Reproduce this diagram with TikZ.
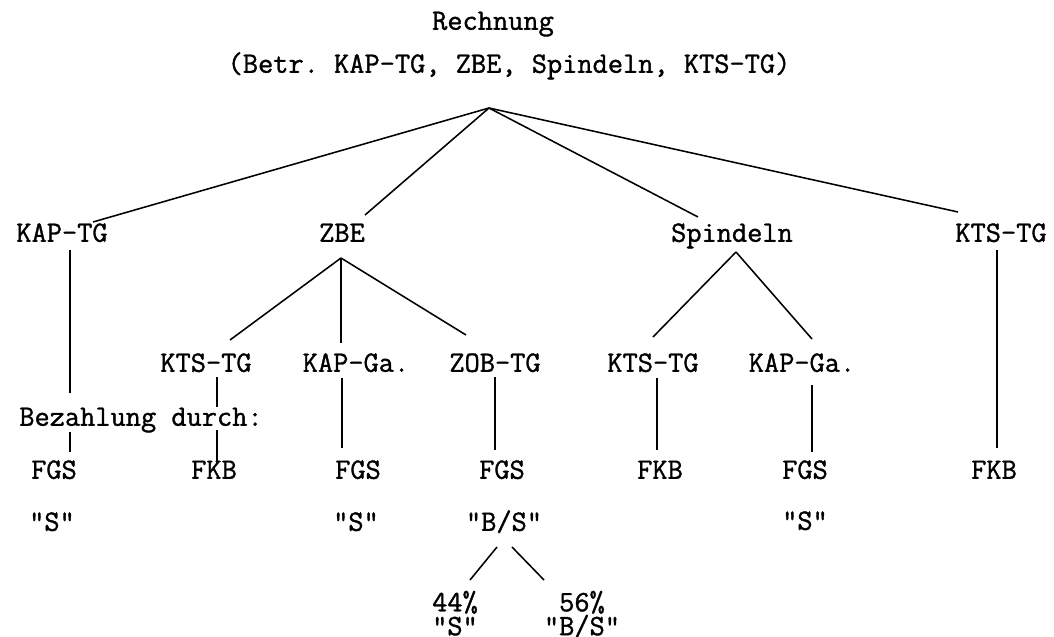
\documentclass[tikz,border=0pt]{standalone}
\usepackage{fontspec}
\setmonofont{Latin Modern Mono}[FakeBold=1.2]
\usepackage{tikz}
\usetikzlibrary{calc}

\begin{document}
\begin{tikzpicture}[x=0.025cm, y=-0.025cm, line width=1.1pt,
		every node/.style={font=\ttfamily\fontsize{21pt}{17pt}\selectfont,
			inner sep=0pt, text height=12.5pt, text depth=0pt},
		share/.style={align=center, text height=, text depth=, anchor=north}]

			\useasboundingbox (0,0) rectangle (1054,637);

			% Heading
			\node (rechnung) at (493,21) {Rechnung};
			\node (betr) at (509,64) {(Betr. KAP-TG, ZBE, Spindeln, KTS-TG)};
			\coordinate (root) at (489,108);

			% First level
			\node (kaptg) at (62,233) {KAP-TG};
			\node (zbe) at (342,233) {ZBE};
			\node (spindeln) at (732,233) {Spindeln};
			\node (ktstg) at (1001,233) {KTS-TG};

			% Second level
			\node (zkts) at (206,363) {KTS-TG};
			\node (zkap) at (356,363) {KAP-Ga.};
			\node (zzob) at (495,363) {ZOB-TG};
			\node (skts) at (653,363) {KTS-TG};
			\node (skap) at (802,363) {KAP-Ga.};

			% Payment
			\node (bez) at (141,417) {Bezahlung durch:};
			\node (fgs1) at (54,470) {FGS};
			\node (fkb1) at (214,470) {FKB};
			\node (fgs2) at (358,470) {FGS};
			\node (fgs3) at (502,470) {FGS};
			\node (fkb2) at (660,470) {FKB};
			\node (fgs4) at (805,470) {FGS};
			\node (fkb3) at (994,470) {FKB};

			\node (s1) at (52,522) {"S"};
			\node (s2) at (356,522) {"S"};
			\node (bs) at (504,522) {"B/S"};
			\node (s4) at (805,521) {"S"};

			\node (p44) [share] at (455,590) {44\%\\"S"};
			\node (p56) [share] at (582,590) {56\%\\"B/S"};

			% Lines from the top
			\draw (root) -- ($(kaptg)+(31,-11)$);
			\draw (root) -- ($(zbe)+(23,-18)$);
			\draw (root) -- ($(spindeln)+(-34,-16)$);
			\draw (root) -- ($(ktstg)+(-43,-21)$);

			% Forks
			\coordinate (zbefork) at ($(zbe)+(-1,25)$);
			\draw (zbefork) -- ($(zkts)+(24,-23)$);
			\draw (zbefork) -- ($(zkap)+(-15,-20)$);
			\draw (zbefork) -- ($(zzob)+(-29,-28)$);

			\coordinate (spfork) at ($(spindeln)+(4,19)$);
			\draw (spfork) -- ($(skts)+(0,-26)$);
			\draw (spfork) -- ($(skap)+(10,-24)$);

			% Down to the payers
			\draw ($(kaptg)+(8,17)$) -- ($(bez)+(-71,-24)$);
			\draw ($(bez)+(-71,15)$) -- ($(fgs1)+(16,-18)$);
			\draw ($(zkts)+(11,14)$) -- ($(bez)+(76,-10)$);
			\draw ($(bez)+(76,13)$) -- ($(fkb1)+(3,-8)$);
			\draw ($(zkap)+(-14,15)$) -- ($(fgs2)+(-16,-22)$);
			\draw ($(zzob)+(0,14)$) -- ($(fgs3)+(-7,-20)$);
			\draw ($(skts)+(4,15)$) -- ($(fkb2)+(-3,-20)$);
			\draw ($(skap)+(10,22)$) -- ($(fgs4)+(7,-18)$);
			\draw ($(ktstg)+(-4,17)$) -- ($(fkb3)+(3,-22)$);

			% Split of B/S
			\draw ($(bs)+(-7,25)$) -- ($(p44.north)+(15,-10)$);
			\draw ($(bs)+(8,25)$) -- ($(p56.north)+(-38,-10)$);

		\end{tikzpicture}
\end{document}
